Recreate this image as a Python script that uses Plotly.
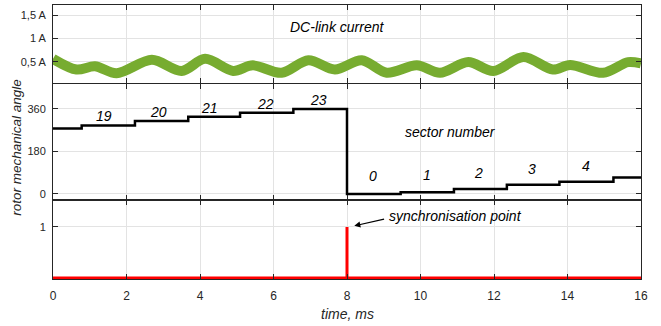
import plotly.graph_objects as go

# ---- data ----
# DC-link current: centre of the noisy band (time ms, current A)
cur_t = [0, 0.64, 1.14, 1.73, 2.69, 3.5, 4.14, 4.9, 5.44, 6.22, 6.95, 7.67, 8.4, 9.08,
         9.9, 10.53, 11.3, 11.98, 12.8, 13.6, 14.07, 14.97, 15.65, 16]
cur_a = [0.56, 0.33, 0.40, 0.25, 0.54, 0.30, 0.56, 0.30, 0.42, 0.26, 0.53, 0.33, 0.53, 0.26,
         0.42, 0.26, 0.49, 0.30, 0.60, 0.33, 0.43, 0.26, 0.49, 0.46]

# rotor mechanical angle step (time ms, degrees)
ang_t = [0, 0.78, 2.23, 3.68, 5.09, 6.54, 8.0, 9.46, 10.91, 12.35, 13.78, 15.25, 16]
ang_v = [277, 290, 309, 327, 344, 360, 0, 7, 21, 39, 52, 70, 70]

# sector labels (time ms, degrees, text)
sec_t = [1.39, 2.87, 4.25, 5.77, 7.22, 8.71, 10.17, 11.57, 13.03, 14.5]
sec_v = [329, 349, 363, 381, 396, 76, 80, 90, 105, 119]
sec_txt = ["19", "20", "21", "22", "23", "0", "1", "2", "3", "4"]

# synchronisation signal
sync_t = [0, 8, 8, 8, 16]
sync_v = [0, 0, 1, 0, 0]

xticks = [0, 2, 4, 6, 8, 10, 12, 14, 16]
cur_ticks = [0.5, 1, 1.5]
cur_ticktext = ["0,5 A", "1 A", "1,5 A"]
ang_ticks = [0, 180, 360]
sync_ticks = [1]

FONT = "Liberation Sans, Arial, sans-serif"
AX = "#262626"
GRID = "#e3e3e3"

fig = go.Figure()
fig.add_trace(go.Scatter(x=cur_t, y=cur_a, mode="lines", line=dict(color="#77ac30", width=10, shape="spline", smoothing=0.9),
                         xaxis="x", yaxis="y", showlegend=False, hoverinfo="skip"))
fig.add_trace(go.Scatter(x=ang_t, y=ang_v, mode="lines", line=dict(color="black", width=2.5, shape="hv"),
                         xaxis="x2", yaxis="y2", showlegend=False))
fig.add_trace(go.Scatter(x=sync_t, y=sync_v, mode="lines", line=dict(color="#ff0000", width=3),
                         xaxis="x3", yaxis="y3", showlegend=False))

common_x = dict(range=[0, 16], tickvals=xticks, ticks="inside", ticklen=5, tickcolor=AX,
                showline=True, linecolor=AX, linewidth=1, mirror="ticks", showgrid=True,
                gridcolor=GRID, zeroline=False, domain=[0, 1])
common_y = dict(ticks="inside", ticklen=5, tickcolor=AX, showline=True, linecolor=AX, linewidth=1,
                mirror="ticks", showgrid=True, gridcolor=GRID, zeroline=False,
                tickfont=dict(family=FONT, size=11, color=AX), ticklabelstandoff=4)

fig.update_layout(
    width=661, height=326,
    margin=dict(l=53, r=20, t=5, b=47),
    paper_bgcolor="white", plot_bgcolor="white",
    font=dict(family=FONT, size=11, color=AX),
    xaxis=dict(common_x, anchor="y", showticklabels=False),
    xaxis2=dict(common_x, anchor="y2", matches="x", showticklabels=False),
    xaxis3=dict(common_x, anchor="y3", matches="x", showticklabels=True,
                tickfont=dict(family=FONT, size=12, color=AX), ticklabelstandoff=6),
    yaxis=dict(common_y, domain=[0.717, 1], range=[0.05, 1.72], tickvals=cur_ticks, ticktext=cur_ticktext),
    yaxis2=dict(common_y, domain=[0.289, 0.711], range=[-25, 465], tickvals=ang_ticks),
    yaxis3=dict(common_y, domain=[0, 0.289], range=[-0.02, 1.53], tickvals=sync_ticks),
)

ann = []
ann.append(dict(x=7.72, y=1.25, xref="x", yref="y", text="<i>DC-link current</i>", showarrow=False,
                font=dict(family=FONT, size=14, color="black")))
ann.append(dict(x=10.82, y=263, xref="x2", yref="y2", text="<i>sector number</i>", showarrow=False,
                font=dict(family=FONT, size=14, color="black")))
for t, v, s in zip(sec_t, sec_v, sec_txt):
    ann.append(dict(x=t, y=v, xref="x2", yref="y2", text="<i>" + s + "</i>", showarrow=False,
                    font=dict(family=FONT, size=14, color="black")))
ann.append(dict(x=8.2, y=1.02, xref="x3", yref="y3", ax=9.05, ay=1.16, axref="x3", ayref="y3",
                text="", showarrow=True, arrowhead=2, arrowsize=1, arrowwidth=1.2, arrowcolor="black"))
ann.append(dict(x=9.08, y=1.22, xref="x3", yref="y3", text="<i>synchronisation point</i>", showarrow=False,
                xanchor="left", font=dict(family=FONT, size=14, color="black")))
ann.append(dict(x=8, y=0, xref="x3", yref="paper", yanchor="top", yshift=-25, text="<i>time, ms</i>",
                showarrow=False, font=dict(family=FONT, size=14, color=AX)))
ann.append(dict(x=0, y=0.45, xref="paper", yref="y2 domain", xanchor="center", xshift=-36,
                text="<i>rotor mechanical angle</i>", showarrow=False, textangle=-90,
                font=dict(family=FONT, size=13.5, color=AX)))
fig.update_layout(annotations=ann)

fig.write_html("out.html")
